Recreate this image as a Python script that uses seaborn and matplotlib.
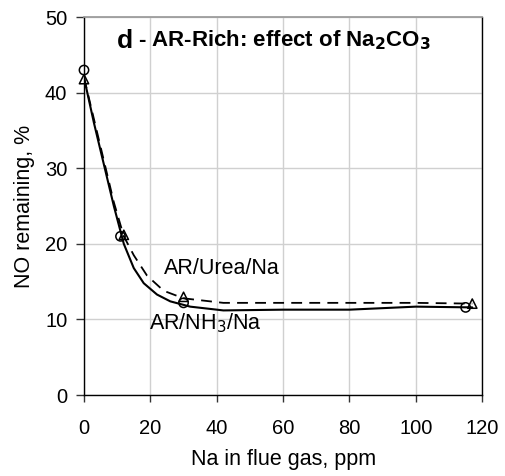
import matplotlib
matplotlib.use("Agg")
import matplotlib.pyplot as plt
import seaborn as sns
import pandas as pd

# Measured points
nh3_x = [0, 11, 30, 115]
nh3_y = [43.0, 21.0, 12.2, 11.6]
urea_x = [0, 12, 30, 117]
urea_y = [41.8, 21.2, 13.0, 12.1]

# Smoothed curves
nh3_curve_x = [0, 3, 6, 9, 12, 15, 18, 22, 26, 32, 42, 60, 80, 100, 117]
nh3_curve_y = [42.0, 36.0, 30.5, 25.0, 20.0, 16.8, 14.8, 13.3, 12.4, 11.7, 11.2, 11.3, 11.3, 11.7, 11.6]
urea_curve_x = [0, 3, 6, 9, 12, 15, 19, 24, 30, 42, 60, 80, 100, 117]
urea_curve_y = [42.0, 36.5, 31.0, 25.5, 21.0, 18.5, 15.8, 13.8, 12.8, 12.2, 12.2, 12.2, 12.2, 12.1]

x_ticks = [0, 20, 40, 60, 80, 100, 120]
y_ticks = [0, 10, 20, 30, 40, 50]

sns.set_theme(style="white")
plt.rcParams['font.family'] = ['Liberation Sans', 'DejaVu Sans']
plt.rcParams['text.color'] = 'black'
plt.rcParams['axes.labelcolor'] = 'black'
plt.rcParams['xtick.color'] = 'black'
plt.rcParams['ytick.color'] = 'black'

fig = plt.figure(figsize=(5.06, 4.76), dpi=100)
ax = fig.add_axes([0.166, 0.170, 0.787, 0.794])

df_nh3c = pd.DataFrame({"x": nh3_curve_x, "y": nh3_curve_y})
df_ureac = pd.DataFrame({"x": urea_curve_x, "y": urea_curve_y})
df_nh3 = pd.DataFrame({"x": nh3_x, "y": nh3_y})
df_urea = pd.DataFrame({"x": urea_x, "y": urea_y})

sns.lineplot(data=df_ureac, x="x", y="y", ax=ax, color="black", lw=1.3,
             linestyle=(0, (6, 4)), sort=False, zorder=3)
sns.lineplot(data=df_nh3c, x="x", y="y", ax=ax, color="black", lw=1.5,
             sort=False, zorder=4)
ax.scatter(df_nh3["x"], df_nh3["y"], s=45, marker="o", facecolors="none",
           edgecolors="black", linewidths=1.1, zorder=5, clip_on=False)
ax.scatter(df_urea["x"], df_urea["y"], s=45, marker="^", facecolors="none",
           edgecolors="black", linewidths=1.1, zorder=5, clip_on=False)

ax.set_xlim(0, 120)
ax.set_ylim(0, 50)
ax.set_xticks(x_ticks)
ax.set_yticks(y_ticks)
ax.grid(True, color="#d0d0d0", lw=1.0)
ax.set_axisbelow(True)
for s in ["left", "bottom", "right"]:
    ax.spines[s].set_color("black")
    ax.spines[s].set_linewidth(1.0)
ax.spines["top"].set_color("#999999")
ax.tick_params(axis="x", which="major", direction="out", length=5, width=1,
               color="#333333", labelcolor="black", labelsize=14.5, pad=12, bottom=True)
ax.tick_params(axis="y", which="major", direction="out", length=6, width=1,
               color="#333333", labelcolor="black", labelsize=14.5, pad=6, left=True)
ax.set_xlabel("Na in flue gas, ppm", fontsize=15.5, labelpad=8, color="black")
ax.set_ylabel("NO remaining, %", fontsize=15.5, labelpad=7, color="black")

ax.text(0.083, 0.938, "d", transform=ax.transAxes, fontsize=19, fontweight="bold",
        va="center", ha="left", color="black")
ax.text(0.136, 0.938, r"- AR-Rich: effect of Na$_\mathbf{2}$CO$_\mathbf{3}$", transform=ax.transAxes,
        fontsize=16, fontweight="bold", va="center", ha="left", color="black")

ax.text(24, 16.7, "AR/Urea/Na", fontsize=15.5, va="center", ha="left", color="black")
ax.text(19.5, 9.5, r"AR/NH$_3$/Na", fontsize=15.5, va="center", ha="left", color="black")

fig.savefig("out.png", dpi=100)
